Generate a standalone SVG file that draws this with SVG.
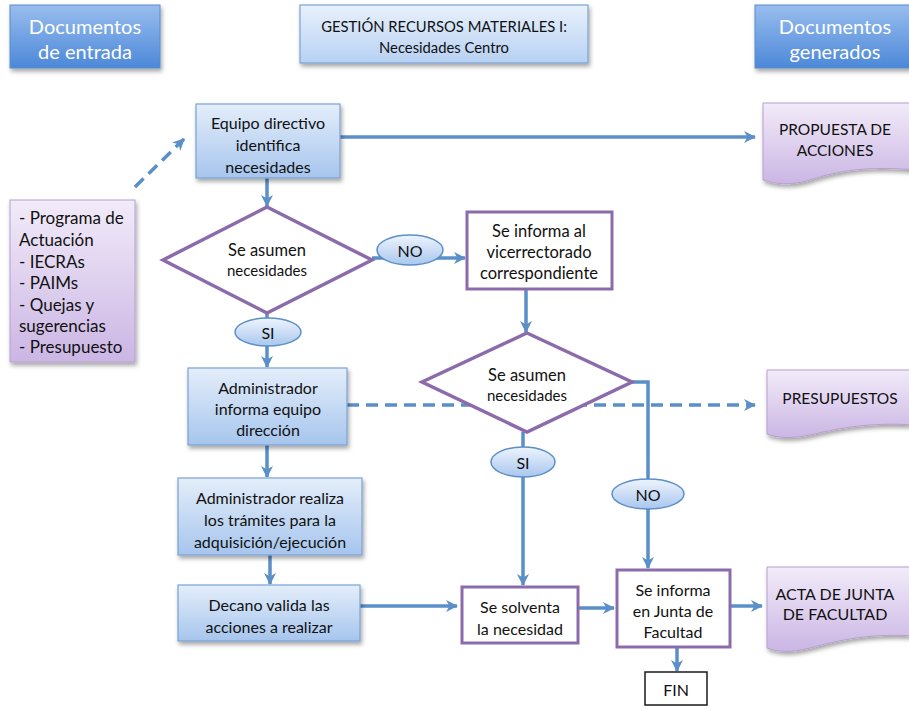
<svg xmlns="http://www.w3.org/2000/svg" width="909" height="709" viewBox="0 0 909 709">
<style>
text{font-family:Lato,"Open Sans","Liberation Sans",sans-serif;fill:#111111;text-anchor:middle;dominant-baseline:central}
.t15{font-size:16px}
.t16{font-size:16.5px}
.t13{font-size:15px}
.td{font-size:15.5px}
.hd{font-size:20px;fill:#ffffff}
.ti{font-size:14.8px}
.lt{text-anchor:start;font-size:17px}
.bbox{fill:url(#gBlue);stroke:#7aa2d4;stroke-width:1.2;filter:url(#sh)}
.hbox{fill:url(#gHead);stroke:#5a8bcc;stroke-width:1;filter:url(#sh)}
.tbox{fill:url(#gTitle);stroke:#7aa2d4;stroke-width:1.2;filter:url(#sh)}
.pbox{fill:#ffffff;stroke:#8c6bab;stroke-width:3}
.doc{fill:url(#gPurp);stroke:#b6a0d0;stroke-width:1;filter:url(#sh)}
.ell{fill:url(#gEll);stroke:#5b8fc7;stroke-width:1.5}
.dia{fill:#ffffff;stroke:#8c6bab;stroke-width:3.5;stroke-linejoin:miter}
.c{fill:none;stroke:#5b8fc7;stroke-width:3.5}
.ca{fill:none;stroke:#5b8fc7;stroke-width:3.5;marker-end:url(#ah)}
.cd{fill:none;stroke:#5b8fc7;stroke-width:3.5;stroke-dasharray:12 7;marker-end:url(#ah)}
</style>
<defs>
<linearGradient id="gBlue" x1="0" y1="0" x2="0" y2="1"><stop offset="0" stop-color="#e4eefa"/><stop offset="1" stop-color="#a6c5ed"/></linearGradient>
<linearGradient id="gHead" x1="0" y1="0" x2="0" y2="1"><stop offset="0" stop-color="#98bdee"/><stop offset="1" stop-color="#4c88d8"/></linearGradient>
<linearGradient id="gTitle" x1="0" y1="0" x2="0" y2="1"><stop offset="0" stop-color="#e9f1fc"/><stop offset="1" stop-color="#b7d1f3"/></linearGradient>
<linearGradient id="gPurp" x1="0" y1="0" x2="0" y2="1"><stop offset="0" stop-color="#f2ebf9"/><stop offset="1" stop-color="#cbb6e4"/></linearGradient>
<linearGradient id="gEll" x1="0" y1="0" x2="0" y2="1"><stop offset="0" stop-color="#eef4fd"/><stop offset="1" stop-color="#a9c7ee"/></linearGradient>
<filter id="sh" x="-20%" y="-20%" width="140%" height="150%"><feDropShadow dx="1.5" dy="3" stdDeviation="2" flood-color="#000" flood-opacity="0.35"/></filter>
<marker id="ah" viewBox="0 0 12 12" refX="11" refY="6" markerWidth="12" markerHeight="12" markerUnits="userSpaceOnUse" orient="auto"><path d="M0,0 L12,6 L0,12 L3.5,6 Z" fill="#5b8fc7"/></marker>
</defs>

<g id="connectors">
<path class="cd" d="M135,187 L184,139"/>
<path class="ca" d="M340,137 L755,137"/>
<path class="ca" d="M267,178 L267,206"/>
<path class="ca" d="M372,258 L465,258"/>
<path class="ca" d="M267,313 L267,367"/>
<path class="ca" d="M526,289 L526,332"/>
<path class="cd" d="M347,405 L755,405"/>
<path class="c" d="M632,382 L648,382 L648,480"/>
<path class="ca" d="M648,508 L648,568"/>
<path class="ca" d="M523,432 L523,585"/>
<path class="ca" d="M267,445 L267,477"/>
<path class="ca" d="M270,555 L270,584"/>
<path class="ca" d="M360,606 L457,606"/>
<path class="ca" d="M578,608 L614,608"/>
<path class="ca" d="M730,606 L762,606"/>
<path class="ca" d="M677,647 L677,671"/>
</g>

<g id="hdr-entrada"><rect class="hbox" x="10" y="5" width="150" height="63"/><text class="hd" x="85" y="26">Documentos</text><text class="hd" x="85" y="51">de entrada</text></g>
<g id="hdr-title"><rect class="tbox" x="300" y="5" width="288" height="58"/><text class="ti" x="444" y="26">GESTIÓN RECURSOS MATERIALES I:</text><text class="ti" x="444" y="47">Necesidades Centro</text></g>
<g id="hdr-generados"><rect class="hbox" x="755" y="5" width="160" height="63"/><text class="hd" x="835" y="26">Documentos</text><text class="hd" x="835" y="51">generados</text></g>

<g id="inputs"><rect x="10" y="200" width="125" height="162" fill="url(#gPurp)" stroke="#b6a0d0" stroke-width="1" filter="url(#sh)"/>
<text class="lt" x="19" y="217">- Programa de</text>
<text class="lt" x="19" y="239">Actuación</text>
<text class="lt" x="19" y="261">- IECRAs</text>
<text class="lt" x="19" y="282">- PAIMs</text>
<text class="lt" x="19" y="304">- Quejas y</text>
<text class="lt" x="19" y="325">sugerencias</text>
<text class="lt" x="19" y="346">- Presupuesto</text></g>

<g id="equipo"><rect class="bbox" x="196" y="104" width="144" height="74"/><text class="t15" x="268" y="122">Equipo directivo</text><text class="t15" x="268" y="144">identifica</text><text class="t15" x="268" y="166">necesidades</text></g>

<g id="doc-propuesta"><path class="doc" d="M763,103 H915 V170 C870,166 840,170 810,180 C790,186 775,184 763,180 Z"/><text class="td" x="835" y="129">PROPUESTA DE</text><text class="td" x="835" y="150">ACCIONES</text></g>

<g id="dec1"><path class="dia" d="M267,207 L372,260 L267,313 L163,260 Z"/><text class="t16" x="267" y="250">Se asumen</text><text class="t13" x="267" y="270">necesidades</text></g>
<g id="no1"><ellipse class="ell" cx="410" cy="250" rx="33" ry="15"/><text class="t15" x="410" y="250">NO</text></g>
<g id="si1"><ellipse class="ell" cx="268" cy="332" rx="33" ry="14"/><text class="t15" x="268" y="332">SI</text></g>

<g id="vicerrectorado"><rect class="pbox" x="467" y="212" width="145" height="77"/><text class="t16" x="539" y="231">Se informa al</text><text class="t16" x="539" y="252">vicerrectorado</text><text class="t16" x="539" y="273">correspondiente</text></g>

<g id="dec2"><path class="dia" d="M527,333 L632,382 L527,432 L422,382 Z"/><text class="t16" x="527" y="375">Se asumen</text><text class="t13" x="527" y="395">necesidades</text></g>
<g id="si2"><ellipse class="ell" cx="523" cy="462" rx="32" ry="15"/><text class="t15" x="523" y="462">SI</text></g>
<g id="no2"><ellipse class="ell" cx="648" cy="494" rx="36" ry="15"/><text class="t15" x="648" y="494">NO</text></g>

<g id="doc-presupuestos"><path class="doc" d="M767,370 H915 V425 C870,422 840,428 810,435 C790,439 778,438 767,434 Z"/><text class="td" x="840" y="398">PRESUPUESTOS</text></g>

<g id="admin-informa"><rect class="bbox" x="188" y="368" width="159" height="77"/><text class="t15" x="268" y="387">Administrador</text><text class="t15" x="268" y="408">informa equipo</text><text class="t15" x="268" y="429">dirección</text></g>
<g id="admin-realiza"><rect class="bbox" x="178" y="478" width="184" height="77"/><text class="t15" x="270" y="497">Administrador realiza</text><text class="t15" x="270" y="519">los trámites para la</text><text class="t15" x="270" y="541">adquisición/ejecución</text></g>
<g id="decano"><rect class="bbox" x="178" y="585" width="182" height="56"/><text class="t15" x="269" y="604">Decano valida las</text><text class="t15" x="269" y="626">acciones a realizar</text></g>

<g id="solventa"><rect class="pbox" x="462" y="587" width="116" height="56"/><text class="t15" x="520" y="606">Se solventa</text><text class="t15" x="520" y="628">la necesidad</text></g>
<g id="junta"><rect class="pbox" x="617" y="570" width="113" height="77"/><text class="t15" x="673" y="589">Se informa</text><text class="t15" x="673" y="610">en Junta de</text><text class="t15" x="673" y="631">Facultad</text></g>

<g id="doc-acta"><path class="doc" d="M767,567 H915 V636 C870,633 840,640 810,648 C790,653 778,652 767,648 Z"/><text class="t15" x="835" y="593">ACTA DE JUNTA</text><text class="t15" x="835" y="613">DE FACULTAD</text></g>

<g id="fin"><rect x="645" y="672" width="62" height="33" fill="#ffffff" stroke="#1a1a1a" stroke-width="1.5"/><text class="t15" x="676" y="689">FIN</text></g>
</svg>
